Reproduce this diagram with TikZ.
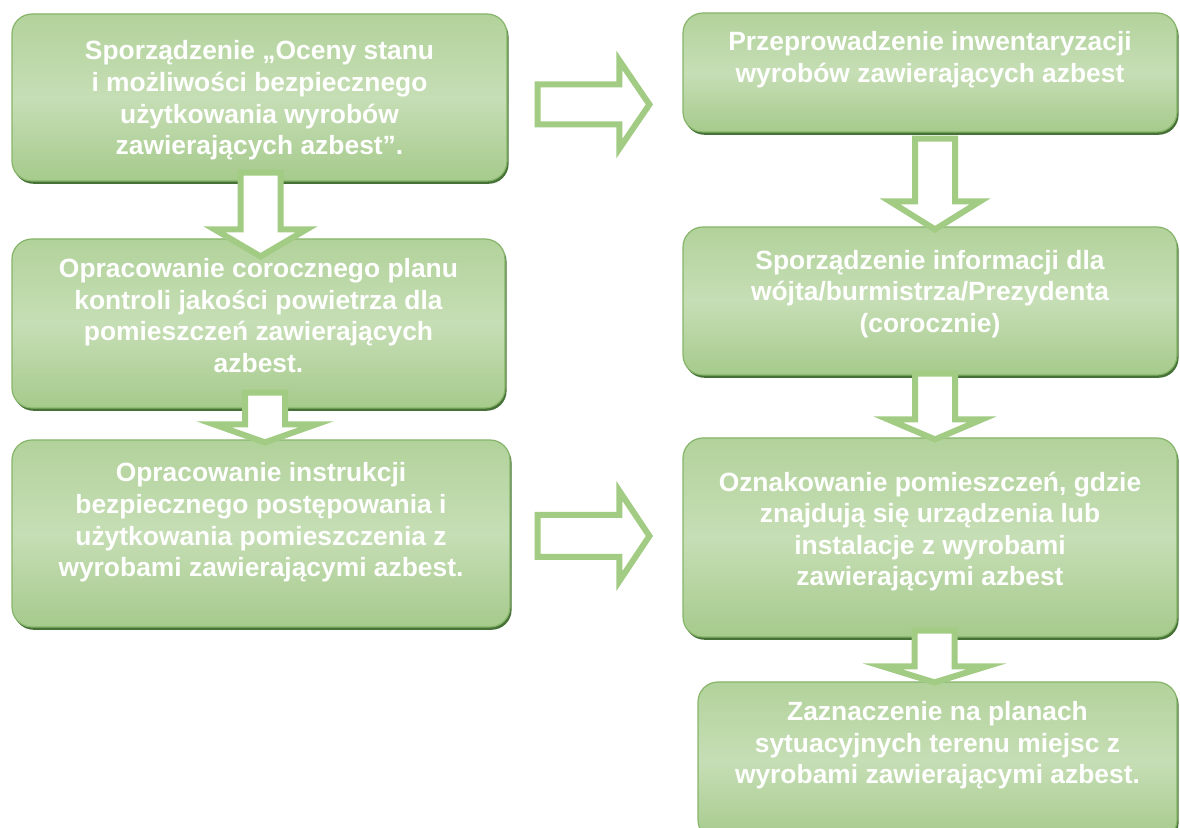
\documentclass[tikz,border=0pt]{standalone}
\usepackage{fontspec}
\setmainfont{Liberation Sans}
\usetikzlibrary{calc,shadows}
\definecolor{boxtop}{HTML}{B2D29B}
\definecolor{boxmid}{HTML}{C6DEB5}
\definecolor{boxbot}{HTML}{A6CA8C}
\definecolor{boxline}{HTML}{86B56A}
\definecolor{boxshadow}{HTML}{3E6B2D}
\definecolor{arrgreen}{HTML}{A2CB84}
\tikzset{
  flowbox/.style={rounded corners=10pt, draw=boxline, line width=0.6pt,
    top color=boxtop, bottom color=boxbot, middle color=boxmid,
    drop shadow={shadow xshift=0.8pt, shadow yshift=-1.4pt, fill=boxshadow, opacity=0.95},
    inner sep=0pt},
  flowtext/.style={text=white, align=center, inner sep=0pt,
    font=\fontsize{13.2pt}{15.8pt}\selectfont\bfseries},
  blockarrow/.style={draw=arrgreen, line width=3pt, fill=white, line join=miter}
}
% box from pixel corners
\newcommand{\flowbox}[5]{%
  \node[flowbox, minimum width={(#4-#2)*0.5pt}, minimum height={(#5-#3)*0.5pt}]
    (#1) at ({(#2+#4)/2},{(#3+#5)/2}) {};}
% block arrow pointing down: #1 shaft top, #2 tip, #3 shaft half width, #4 head half width, #5 head length
\newcommand{\blockdown}[5]{%
  \draw[blockarrow] let \p1=#1, \p2=#2 in
    (\x2-#3,\y1) -- (\x2+#3,\y1) -- (\x2+#3,\y2+#5) -- (\x2+#4,\y2+#5) -- (\x2,\y2)
    -- (\x2-#4,\y2+#5) -- (\x2-#3,\y2+#5) -- cycle;}
% block arrow pointing right
\newcommand{\blockright}[5]{%
  \draw[blockarrow] let \p1=#1, \p2=#2 in
    (\x1,\y2+#3) -- (\x2-#5,\y2+#3) -- (\x2-#5,\y2+#4) -- (\x2,\y2) -- (\x2-#5,\y2-#4)
    -- (\x2-#5,\y2-#3) -- (\x1,\y2-#3) -- cycle;}
\begin{document}
\begin{tikzpicture}[x=0.5pt, y=-0.5pt]
\clip (0,0) rectangle (1180,828);
\fill[white] (0,0) rectangle (1180,828);

\flowbox{L1}{12}{14}{507}{181}
\flowbox{L2}{12}{239}{505}{408}
\flowbox{L3}{12}{440}{510}{627}
\flowbox{R1}{683}{13}{1177}{132}
\flowbox{R2}{683}{227}{1177}{375}
\flowbox{R3}{683}{438}{1177}{637}
\flowbox{R4}{698}{682}{1177}{840}

\node[flowtext] (t1) at ($(L1.center)+(0,3)$) {Sporządzenie „Oceny stanu\\i możliwości bezpiecznego\\użytkowania wyrobów\\zawierających azbest”.};
\node[flowtext] (t2) at ($(L2.center)+(0,-8)$) {Opracowanie corocznego planu\\kontroli jakości powietrza dla\\pomieszczeń zawierających\\azbest.};
\node[flowtext] (t3) at ($(L3.center)+(0,-11)$) {Opracowanie instrukcji\\bezpiecznego postępowania i\\użytkowania pomieszczenia z\\wyrobami zawierającymi azbest.};
\node[flowtext] (t4) at ($(R1.center)+(0,-13)$) {Przeprowadzenie inwentaryzacji\\wyrobów zawierających azbest};
\node[flowtext] (t5) at ($(R2.center)+(0,-7)$) {Sporządzenie informacji dla\\wójta/burmistrza/Prezydenta\\(corocznie)};
\node[flowtext] (t6) at ($(R3.center)+(0,-6)$) {Oznakowanie pomieszczeń, gdzie\\znajdują się urządzenia lub\\instalacje z wyrobami\\zawierającymi azbest};
\node[flowtext] (t7) at ($(R4.north)+(0,64)$) {Zaznaczenie na planach\\sytuacyjnych terenu miejsc z\\wyrobami zawierającymi azbest.};

% vertical block arrows
\blockdown{($(L1.south)+(2,-9)$)}{($(L2.north)+(2,18)$)}{10pt}{23pt}{13.5pt}
\blockdown{($(L2.south)+(5,-16)$)}{($(L3.north)+(4,3)$)}{10pt}{25.5pt}{9pt}
\blockdown{($(R1.south)+(5,6)$)}{($(R2.north)+(5,3)$)}{10pt}{22.5pt}{14pt}
\blockdown{($(R2.south)+(5,-2)$)}{($(R3.north)+(5,2)$)}{10pt}{23.5pt}{10pt}
\blockdown{($(R3.south)+(5,-7)$)}{($(R4.north)+(-3,1)$)}{10pt}{26pt}{8pt}

% horizontal block arrows
\blockright{($(L1.east)+(30,7)$)}{($(R1.west)+(-33,32)$)}{10pt}{22pt}{15pt}
\blockright{($(L3.east)+(27,2.5)$)}{($(R3.west)+(-33,-1.5)$)}{10.5pt}{22.5pt}{15pt}
\end{tikzpicture}
\end{document}
